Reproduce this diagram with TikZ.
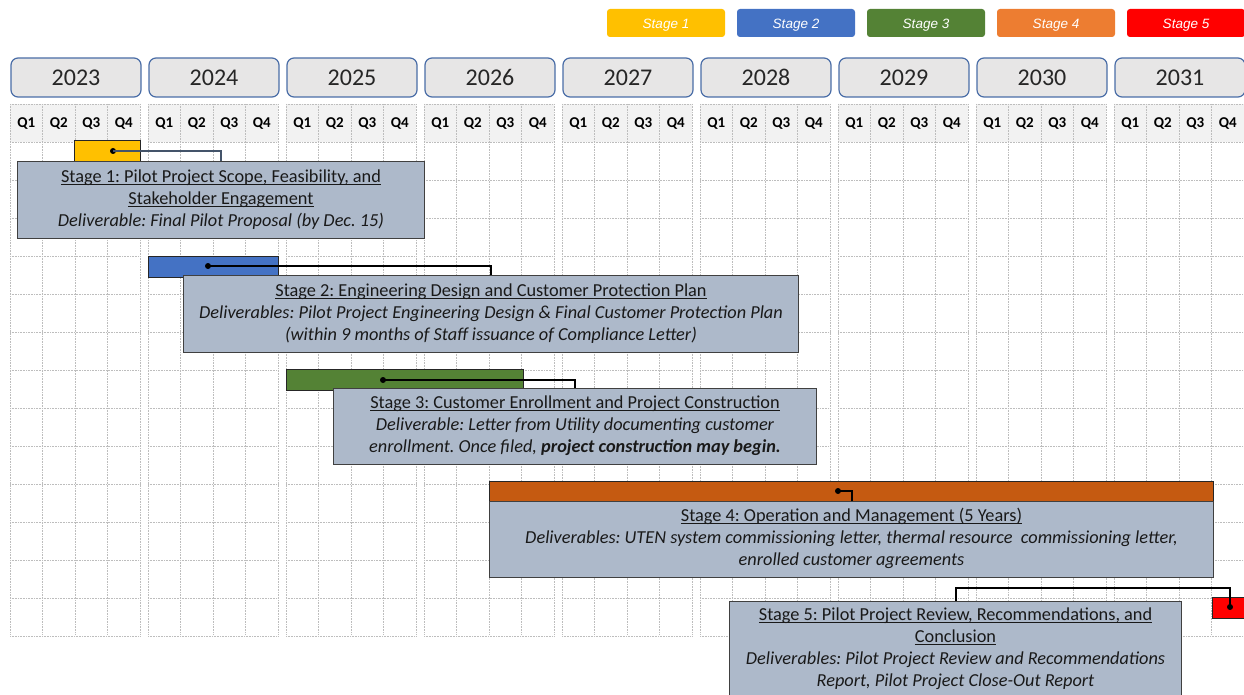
\documentclass[tikz,border=0pt]{standalone}
\usepackage{fontspec}
\setmainfont{Carlito}
\newfontfamily\legendfont{Liberation Sans}
\definecolor{stA}{HTML}{FFC000}
\definecolor{stB}{HTML}{4472C4}
\definecolor{stC}{HTML}{548235}
\definecolor{stD}{HTML}{ED7D31}
\definecolor{stDbar}{HTML}{C55A11}
\definecolor{stE}{HTML}{FF0000}
\definecolor{yearfill}{HTML}{E7E6E6}
\definecolor{yearline}{HTML}{4A6DA7}
\definecolor{qfill}{HTML}{F2F2F2}
\definecolor{gridgray}{HTML}{BDBDBD}
\definecolor{calfill}{HTML}{ADB9CA}
\definecolor{calline}{HTML}{404040}
\definecolor{slate}{HTML}{44546A}
\newcommand{\ulhead}[1]{\underline{\smash{#1}}}
\frenchspacing
\setlength{\tabcolsep}{0pt}
\begin{document}
\begin{tikzpicture}[x=1pt,y=-1pt,
  yearbox/.style={draw=yearline,fill=yearfill,rounded corners=7pt,line width=1.2pt,minimum width=130pt,minimum height=39pt,inner sep=0pt,text=black!85,font=\fontsize{24}{26}\selectfont},
  qtr/.style={inner sep=0pt,font=\bfseries\fontsize{15}{17}\selectfont},
  legend/.style={rounded corners=3pt,minimum width=118pt,minimum height=28pt,inner sep=0pt,text=white,text height=11pt,text depth=0.3pt,font=\legendfont\itshape\fontsize{13.5}{15}\selectfont},
  gridline/.style={draw=gridgray,densely dotted,line width=0.6pt},
  bar/.style={draw=black!85,line width=1pt,anchor=north west,inner sep=0pt,minimum height=21pt},
  callout/.style={draw=calline,fill=calfill,line width=1pt,anchor=north west,inner sep=0pt,text=black!90,font=\fontsize{18.3}{22}\selectfont},
  link/.style={line width=2pt},
  dot/.style={circle,fill=black,inner sep=0pt,minimum size=6pt}]
\useasboundingbox (0,0) rectangle (1244,695);
\clip (0,0) rectangle (1244,695);
% legend
\node[legend,fill=stA] (lg1) at (666,23) {Stage 1};
\node[legend,fill=stB] (lg2) at (796,23) {Stage 2};
\node[legend,fill=stC] (lg3) at (926,23) {Stage 3};
\node[legend,fill=stD] (lg4) at (1056,23) {Stage 4};
\node[legend,fill=stE] (lg5) at (1186,23) {Stage 5};
% years and quarters
\foreach \i in {0,...,8} {
  \pgfmathsetmacro\xa{10+138*\i}
  \pgfmathtruncatemacro\yr{2023+\i}
  \fill[qfill] (\xa,104) rectangle ++(130,38);
  \foreach \k in {0,...,4}
    \draw[gridline] (\xa+32.5*\k,104) -- (\xa+32.5*\k,634);
  \foreach \r in {0,...,14}
    \draw[gridline] (\xa,104+38*\r) -- (\xa+130,104+38*\r);
  \node[yearbox] (y\yr) at (\xa+66,77.5) {\yr};
  \foreach \q in {1,...,4}
    \node[qtr] (q\yr\q) at (\xa+32.5*\q-16.25,123.5) {Q\q};
}
% bars
\node[bar,fill=stA,minimum width=66pt] (bar1) at (74,140) {};
\node[bar,fill=stB,minimum width=130pt] (bar2) at (148,256) {};
\node[bar,fill=stC,minimum width=237pt] (bar3) at (286,369) {};
\node[bar,fill=stDbar,minimum width=724pt] (bar4) at (489,481) {};
\node[bar,fill=stE,minimum width=60pt] (bar5) at (1212,597) {};
% callouts
\node[callout,minimum width=407pt,minimum height=77pt] (c1) at (17,161)
  {\begin{tabular}{c}
   \ulhead{Stage 1: Pilot Project Scope, Feasibility, and}\\
   \ulhead{Stakeholder Engagement}\\
   \itshape Deliverable: Final Pilot Proposal (by Dec. 15)
   \end{tabular}};
\node[callout,minimum width=615pt,minimum height=77pt] (c2) at (183,275)
  {\begin{tabular}{c}
   \ulhead{Stage 2: Engineering Design and Customer Protection Plan}\\
   \itshape Deliverables: Pilot Project Engineering Design \& Final Customer Protection Plan\\
   \itshape (within 9 months of Staff issuance of Compliance Letter)
   \end{tabular}};
\node[callout,minimum width=483pt,minimum height=76pt] (c3) at (333,388)
  {\begin{tabular}{c}
   \ulhead{Stage 3: Customer Enrollment and Project Construction}\\
   \itshape Deliverable: Letter from Utility documenting customer\\
   \itshape enrollment. Once filed, \textbf{project construction may begin.}
   \end{tabular}};
\node[callout,minimum width=724pt,minimum height=76pt] (c4) at (489,501)
  {\begin{tabular}{c}
   \ulhead{Stage 4: Operation and Management (5 Years)}\\
   \itshape Deliverables: UTEN system commissioning letter, thermal resource~ commissioning letter,\\
   \itshape enrolled customer agreements
   \end{tabular}};
\node[callout,minimum width=452pt,minimum height=96pt] (c5) at (729,601)
  {\begin{tabular}{c}
   \ulhead{Stage 5: Pilot Project Review, Recommendations, and}\\
   \ulhead{Conclusion}\\
   \itshape Deliverables: Pilot Project Review and Recommendations\\
   \itshape Report, Pilot Project Close-Out Report
   \end{tabular}};
% links
\node[dot] (d1) at (113,151) {};
\node[dot] (d2) at (208,266) {};
\node[dot] (d3) at (383,380) {};
\node[dot] (d4) at (838,491) {};
\node[dot] (d5) at (1230,607) {};
\coordinate (k5) at (1230,588);
\draw[link,slate] (d1.center) -| (c1.north);
\foreach \u in {2,3,4}
  \draw[link] (d\u.center) -| (c\u.north);
\draw[link] (d5.center) -- (k5) -| (c5.north);
\end{tikzpicture}
\end{document}
